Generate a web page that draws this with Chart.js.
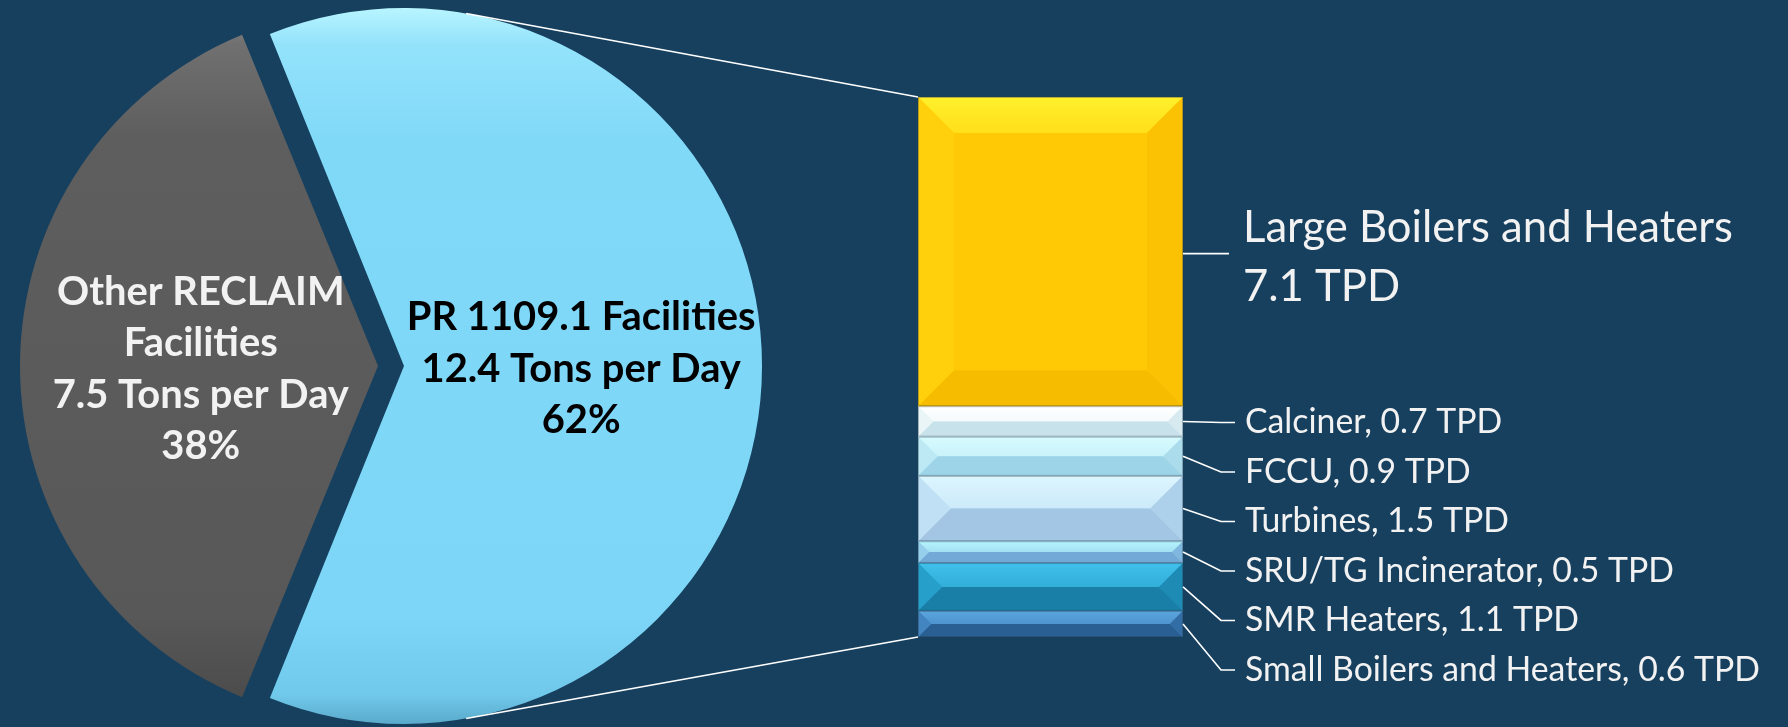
<!DOCTYPE html>
<html><head><meta charset="utf-8">
<script src="https://cdn.jsdelivr.net/npm/chart.js@4.4.0/dist/chart.umd.min.js"></script>
<style>
html,body{margin:0;padding:0;background:#17405f;width:1788px;height:727px;overflow:hidden;}
.layer{position:absolute;left:0;top:0;width:1788px;height:727px;}
</style></head><body>
<div class="layer"><canvas id="pie" width="1788" height="727"></canvas></div>
<div class="layer"><canvas id="bar" width="1788" height="727"></canvas></div>
<script>
// ---------------- data ----------------
const pieNames = [['PR 1109.1 Facilities'], ['Other RECLAIM', 'Facilities']];
const pieValues = [12.4, 7.5];
const barCategories = ['Large Boilers and Heaters', 'Calciner', 'FCCU', 'Turbines', 'SRU/TG Incinerator', 'SMR Heaters', 'Small Boilers and Heaters'];
const barValues = [7.1, 0.7, 0.9, 1.5, 0.5, 1.1, 0.6];
const barUnit = 'TPD';
const pieUnit = 'Tons per Day';

// ---------------- styles ----------------
const BG = '#17405f';
const FONT = 'Lato, "Open Sans", sans-serif';
const PIE_STOPS = [
  [[0,'#b8f5ff'],[0.05,'#94e3fb'],[0.18,'#81d9f8'],[0.85,'#7dd6f7'],[0.96,'#70c8ea'],[1,'#5aaacb']],
  [[0,'#8e8e8e'],[0.05,'#707070'],[0.18,'#5e5e5e'],[0.85,'#585858'],[0.96,'#4c4c4c'],[1,'#3a3a3a']]
];
const PIE_TEXT = ['#000000', '#f2f2f2'];
const BAR_FILL  = ['#ffca05','#e6f3f7','#b9e6f2','#bbdcf4','#8fc8e8','#2399c6','#3d7fbb'];
const BAR_LIGHT = ['#fff02c','#ffffff','#d6fbff','#dcf6ff','#b4f4fc','#3fc0ea','#5ba5dd'];
const BAR_DARK  = ['#f6bc00','#c8e2eb','#9dd4e7','#a2c6e4','#72a9d6','#1a7fa6','#2a5f93'];

Chart.defaults.animation = false;

function hex(c){c=c.replace('#','');return [0,2,4].map(i=>parseInt(c.substr(i,2),16));}
function mix(a,b,t){const A=hex(a),B=hex(b);return 'rgb('+A.map((v,i)=>Math.round(v+(B[i]-v)*t)).join(',')+')';}

// ---------------- pie geometry ----------------
const pieTotal = pieValues.reduce((a,b)=>a+b,0);
const circB = pieValues[0]/pieTotal*360;
function fixFor(deg){const c=deg*Math.PI/180;return 1-Math.sin(Math.min(Math.PI,c));}
const fixes = [fixFor(circB), fixFor(360-circB)];
const GAP = 26, OFFSET_DIV = 4, R_TARGET = 358;
const tG = GAP*fixes[0]/(fixes[0]+fixes[1]);
const shifts = [GAP - tG, tG];
const baseRadius = R_TARGET - shifts[0]*fixes[0];
const pieCx = 378 + shifts[1], pieCy = 366;

const pieChart = new Chart(document.getElementById('pie'), {
  type: 'pie',
  data: { labels: pieNames.map(n=>n.join(' ')), datasets: [{
    data: pieValues,
    rotation: 90 - circB/2,
    radius: baseRadius,
    offset: shifts.map(s=>s*OFFSET_DIV),
    borderWidth: 0,
    backgroundColor: (ctx) => {
      const c = ctx.chart.ctx;
      const g = c.createLinearGradient(0, pieCy - R_TARGET, 0, pieCy + R_TARGET);
      PIE_STOPS[ctx.dataIndex].forEach(s=>g.addColorStop(s[0], s[1]));
      return g;
    }
  }]},
  options: {
    responsive: false,
    layout: { padding: { left: 0, right: 1788 - 2*pieCx, top: 2*pieCy - 727, bottom: 0 } },
    plugins: { legend: {display:false}, tooltip: {enabled:false} }
  },
  plugins: [{
    id: 'pieText',
    afterDraw(chart) {
      const c = chart.ctx;
      const meta = chart.getDatasetMeta(0);
      c.save();
      c.font = `700 100px ${FONT}`;
      const size = 100*349/c.measureText('PR 1109.1 Facilities').width;
      c.font = `700 ${size}px ${FONT}`;
      c.textAlign = 'center'; c.textBaseline = 'middle';
      const lh = 51.5;
      meta.data.forEach((el, i) => {
        const mid = (el.startAngle + el.endAngle)/2;
        const R = el.outerRadius + shifts[i]*fixes[i];
        const ax = el.x + Math.cos(mid)*shifts[i], ay = el.y + Math.sin(mid)*shifts[i];
        const px = ax + Math.cos(mid)*R*0.495, py = ay + Math.sin(mid)*R*0.495 + 3;
        const v = pieValues[i];
        const lines = [...pieNames[i], `${v} ${pieUnit}`, `${Math.round(v/pieTotal*100)}%`];
        c.fillStyle = PIE_TEXT[i];
        lines.forEach((t, k) => c.fillText(t, px, py + (k - (lines.length-1)/2)*lh));
      });
      c.restore();
    }
  }]
});

// ---------------- bar ----------------
const barTotal = barValues.reduce((a,b)=>a+b,0);
const order = barValues.map((v,i)=>i).reverse(); // bottom segment first
const BAR = {left: 918, top: 97, right: 1183, bottom: 637};

function poly(c, pts, fill){c.beginPath();pts.forEach((p,i)=>i?c.lineTo(p[0],p[1]):c.moveTo(p[0],p[1]));c.closePath();c.fillStyle=fill;c.fill();}

const barChart = new Chart(document.getElementById('bar'), {
  type: 'bar',
  data: { labels: [''], datasets: order.map(i => ({
    label: barCategories[i], data: [barValues[i]], backgroundColor: BAR_FILL[i],
    borderWidth: 0, barPercentage: 1, categoryPercentage: 1, catIndex: i
  }))},
  options: {
    responsive: false,
    layout: { padding: { left: BAR.left, top: BAR.top, right: 1788 - BAR.right, bottom: 727 - BAR.bottom } },
    scales: {
      x: { display: false, stacked: true },
      y: { display: false, stacked: true, min: 0, max: barTotal }
    },
    plugins: { legend: {display:false}, tooltip: {enabled:false} }
  },
  plugins: [{
    id: 'bevelAndLabels',
    afterDatasetsDraw(chart) {
      const c = chart.ctx;
      const segs = [];
      chart.data.datasets.forEach((ds, di) => {
        const el = chart.getDatasetMeta(di).data[0];
        const p = el.getProps(['x','y','base','width'], true);
        const x0 = p.x - p.width/2, x1 = p.x + p.width/2;
        const y0 = Math.min(p.y, p.base), y1 = Math.max(p.y, p.base);
        const i = ds.catIndex;
        segs[i] = {x0, x1, y0, y1};
        const b = Math.min(36, (y1-y0)/2);
        c.save();
        const g = c.createLinearGradient(0, y0, 0, y0 + b);
        g.addColorStop(0, BAR_LIGHT[i]); g.addColorStop(1, mix(BAR_LIGHT[i], BAR_FILL[i], 0.45));
        poly(c, [[x0,y0],[x1,y0],[x1-b,y0+b],[x0+b,y0+b]], g);
        poly(c, [[x0,y1],[x1,y1],[x1-b,y1-b],[x0+b,y1-b]], BAR_DARK[i]);
        poly(c, [[x0,y0],[x0+b,y0+b],[x0+b,y1-b],[x0,y1]], mix(BAR_FILL[i], BAR_LIGHT[i], 0.15));
        poly(c, [[x1,y0],[x1-b,y0+b],[x1-b,y1-b],[x1,y1]], mix(BAR_FILL[i], BAR_DARK[i], 0.55));
        c.strokeStyle = 'rgba(40,55,70,0.35)'; c.lineWidth = 1;
        c.strokeRect(x0+0.5, y0+0.5, x1-x0-1, y1-y0-1);
        c.restore();
      });

      // connector lines from pie to bar
      const pel = pieChart.getDatasetMeta(0).data[0];
      const pmid = (pel.startAngle + pel.endAngle)/2;
      const pR = pel.outerRadius + shifts[0]*fixes[0];
      const pcx = pel.x + Math.cos(pmid)*shifts[0], pcy = pel.y + Math.sin(pmid)*shifts[0];
      const top = segs[0], bot = segs[segs.length-1];
      c.save();
      c.strokeStyle = '#ffffff'; c.lineWidth = 1.6;
      const a = 80*Math.PI/180;
      c.beginPath();
      c.moveTo(pcx + pR*Math.cos(-a), pcy + pR*Math.sin(-a)); c.lineTo(top.x0, top.y0);
      c.moveTo(pcx + pR*Math.cos(a), pcy + pR*Math.sin(a)); c.lineTo(bot.x0, bot.y1);
      c.stroke();

      // labels
      const textX = top.x1 + 62;
      c.fillStyle = '#f2f2f2'; c.textAlign = 'left'; c.textBaseline = 'middle';
      // big label
      c.font = `400 100px ${FONT}`;
      const bigSize = 100*490/c.measureText(barCategories[0]).width;
      const m0 = (top.y0 + top.y1)/2;
      c.beginPath(); c.moveTo(top.x1, m0 + 2); c.lineTo(top.x1 + 46, m0 + 2); c.stroke();
      c.font = `400 ${bigSize}px ${FONT}`;
      c.fillText(barCategories[0], textX - 2, m0 - 24);
      c.fillText(`${barValues[0]} ${barUnit}`, textX - 2, m0 + 35);
      // small labels
      c.font = `400 100px ${FONT}`;
      const smallText = barCategories.map((n,i)=>`${n}, ${barValues[i]} ${barUnit}`);
      const smallSize = 100*515/c.measureText(smallText[6]).width;
      c.font = `400 ${smallSize}px ${FONT}`;
      let prev = -Infinity;
      for (let i = 1; i < barCategories.length; i++) {
        const s = segs[i];
        const mid = (s.y0 + s.y1)/2;
        const ly = Math.max(mid + 1, prev + 49.5);
        prev = ly;
        c.beginPath(); c.moveTo(s.x1, mid); c.lineTo(s.x1 + 38, ly); c.lineTo(s.x1 + 52, ly); c.stroke();
        c.fillText(smallText[i], textX, ly);
      }
      c.restore();
    }
  }]
});
</script>
</body></html>
